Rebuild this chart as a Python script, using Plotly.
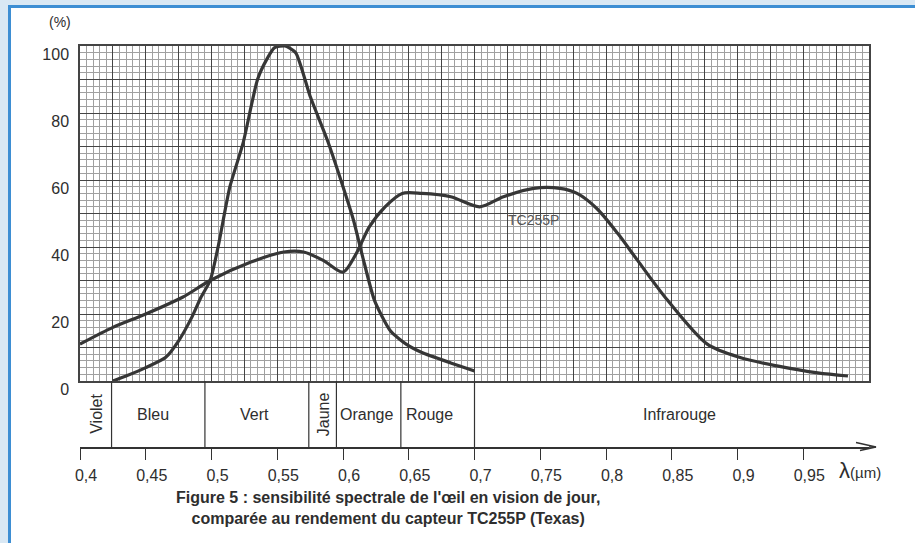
import plotly.graph_objects as go

# ---- data ----
eye_x = [0.425, 0.435, 0.450, 0.465, 0.475, 0.485, 0.492, 0.499, 0.505, 0.514, 0.524,
         0.535, 0.542, 0.548, 0.556, 0.564, 0.575, 0.588, 0.600, 0.608, 0.615, 0.624,
         0.636, 0.648, 0.660, 0.682, 0.700]
eye_y = [0, 1.5, 4, 7, 12, 19, 25, 30, 40, 58, 71,
         90, 96, 99.5, 100, 98, 85, 72, 58, 48, 37, 24,
         15, 11, 8.5, 5.4, 3]

tc_x = [0.400, 0.425, 0.450, 0.478, 0.499, 0.530, 0.555, 0.570, 0.585, 0.600, 0.610,
        0.620, 0.632, 0.645, 0.660, 0.682, 0.704, 0.722, 0.745, 0.765, 0.778, 0.793,
        0.809, 0.824, 0.847, 0.877, 0.902, 0.930, 0.961, 0.984]
tc_y = [11, 16, 20, 25, 30, 35.5, 38.5, 38.5, 36, 32.5, 38,
        46, 52, 56, 56, 55, 52, 55, 57.5, 57.5, 56, 51.5,
        44, 36, 24, 11, 7, 4.5, 2.4, 1.5]

x_ticks = [0.4, 0.45, 0.5, 0.55, 0.6, 0.65, 0.7, 0.75, 0.8, 0.85, 0.9, 0.95]
x_tick_labels = ["0,4", "0,45", "0,5", "0,55", "0,6", "0,65", "0,7", "0,75", "0,8", "0,85", "0,9", "0,95"]
y_ticks = [0, 10, 20, 30, 40, 50, 60, 70, 80, 90, 100]
y_tick_labels = ["0", "", "20", "", "40", "", "60", "", "80", "", "100"]

band_edges = [0.424, 0.495, 0.574, 0.595, 0.644, 0.700]
band_names = ["Violet", "Bleu", "Vert", "Jaune", "Orange", "Rouge", "Infrarouge"]
band_centers = [0.412, 0.4555, 0.533, 0.585, 0.6175, 0.666, 0.856]
band_rotated = [True, False, False, True, False, False, False]

FONT = "Liberation Sans, Arial, sans-serif"
TXT = "#2e2e2e"
CURVE = "#363636"

fig = go.Figure()
fig.add_trace(go.Scatter(x=eye_x, y=eye_y, mode="lines", xaxis="x", yaxis="y",
                         line=dict(color=CURVE, width=3.2, shape="spline", smoothing=0.6),
                         showlegend=False, hoverinfo="skip"))
fig.add_trace(go.Scatter(x=tc_x, y=tc_y, mode="lines", xaxis="x", yaxis="y",
                         line=dict(color=CURVE, width=3.2, shape="spline", smoothing=0.8),
                         showlegend=False, hoverinfo="skip"))
# invisible trace to activate the band subplot
fig.add_trace(go.Scatter(x=[0.4, 1.0], y=[0, 0], mode="lines", xaxis="x2", yaxis="y2",
                         line=dict(width=0), showlegend=False, hoverinfo="skip"))

main_low = (447 - 381) / 401.0

fig.update_layout(
    width=915, height=543,
    margin=dict(l=80, r=46, t=46, b=96, autoexpand=False),
    paper_bgcolor="#d9e8f4",
    plot_bgcolor="rgba(0,0,0,0)",
    font=dict(family=FONT, color=TXT, size=16),
    xaxis=dict(domain=[0, 1], anchor="y", range=[0.4, 1.0], showticklabels=False,
               ticks="", showgrid=True, tick0=0.4, dtick=0.025, gridcolor="#444444",
               gridwidth=1.3, zeroline=False, showline=True, mirror=True,
               linecolor="#444", linewidth=1.5, automargin=False,
               minor=dict(tick0=0.4, dtick=0.005, showgrid=True, gridcolor="#a0a0a0",
                          gridwidth=1)),
    yaxis=dict(domain=[main_low, 1], anchor="x", range=[0, 100], tickmode="array",
               tickvals=y_ticks, ticktext=y_tick_labels, ticks="", showgrid=True,
               gridcolor="#444444", gridwidth=1.3, zeroline=False, showline=True,
               mirror=True, linecolor="#444", linewidth=1.5, automargin=False,
               ticklabelshift=8, ticklabelstandoff=6,
               tickfont=dict(size=16, color=TXT, family=FONT),
               minor=dict(dtick=2, showgrid=True, gridcolor="#a0a0a0", gridwidth=1)),
    xaxis2=dict(domain=[0, 1], anchor="y2", matches="x", range=[0.4, 1.0],
                tickmode="array", tickvals=x_ticks, ticktext=x_tick_labels,
                ticks="outside", ticklen=11, tickcolor="#333", tickwidth=1,
                showgrid=False, zeroline=False, showline=True, linecolor="#333",
                linewidth=1.5, ticklabelshift=6, ticklabelstandoff=2, automargin=False,
                tickfont=dict(size=16, color=TXT, family=FONT)),
    yaxis2=dict(domain=[0, main_low], anchor="x2", range=[0, 1], visible=False),
)

def px(v):
    return (v - 80) / 789.0
def py(v):
    return (447 - v) / 401.0

shapes = []
# frame of the page
shapes.append(dict(type="rect", xref="paper", yref="paper",
                   x0=px(9.5), x1=px(940), y0=py(560), y1=py(6.5),
                   fillcolor="white", line=dict(color="#3d8ed3", width=3), layer="below"))
# band separators
for e in band_edges:
    shapes.append(dict(type="line", xref="x2", yref="y2", x0=e, x1=e, y0=0, y1=1,
                       line=dict(color="#333", width=1.2)))
# axis arrow extension and head
shapes.append(dict(type="line", xref="paper", yref="paper", x0=1.0, x1=px(876),
                   y0=0, y1=0, line=dict(color="#333", width=1.5)))
shapes.append(dict(type="path", xref="paper", yref="paper",
                   path=f"M {px(856)} {py(442.5)} L {px(876)} {py(447)} L {px(860)} {py(450.5)}",
                   line=dict(color="#333", width=1.3)))
fig.update_layout(shapes=shapes)

ann = []
for name, c, rot in zip(band_names, band_centers, band_rotated):
    ann.append(dict(x=c, y=0.5, xref="x2", yref="y2", text=name, showarrow=False,
                    xanchor="center", yanchor="middle",
                    textangle=-90 if rot else 0,
                    font=dict(size=16, color=TXT, family=FONT)))
ann.append(dict(x=0.745, y=48, xref="x", yref="y", text="TC255P", showarrow=False,
                xanchor="center", yanchor="middle",
                font=dict(size=14, color="#555", family=FONT)))
ann.append(dict(x=px(60), y=py(22), xref="paper", yref="paper", text="(%)",
                xanchor="center", yanchor="middle",
                showarrow=False, font=dict(size=14, color=TXT, family=FONT)))
ann.append(dict(x=px(860), y=py(470), xref="paper", yref="paper",
                xanchor="center", yanchor="middle",
                text="<span style='font-size:22px'>λ</span>(µm)", showarrow=False,
                font=dict(size=15, color=TXT, family=FONT)))
ann.append(dict(x=px(388), y=py(507.5), xref="paper", yref="paper",
                xanchor="center", yanchor="middle",
                text="<b>Figure 5 : sensibilité spectrale de l'œil en vision de jour,</b><br>"
                     "<b>comparée au rendement du capteur TC255P (Texas)</b>",
                showarrow=False, align="center",
                font=dict(size=16, color=TXT, family=FONT)))
fig.update_layout(annotations=ann)

fig.write_html("out.html", config={"displayModeBar": False},
               post_script="document.body.style.margin='0';document.body.style.overflow='hidden';")
